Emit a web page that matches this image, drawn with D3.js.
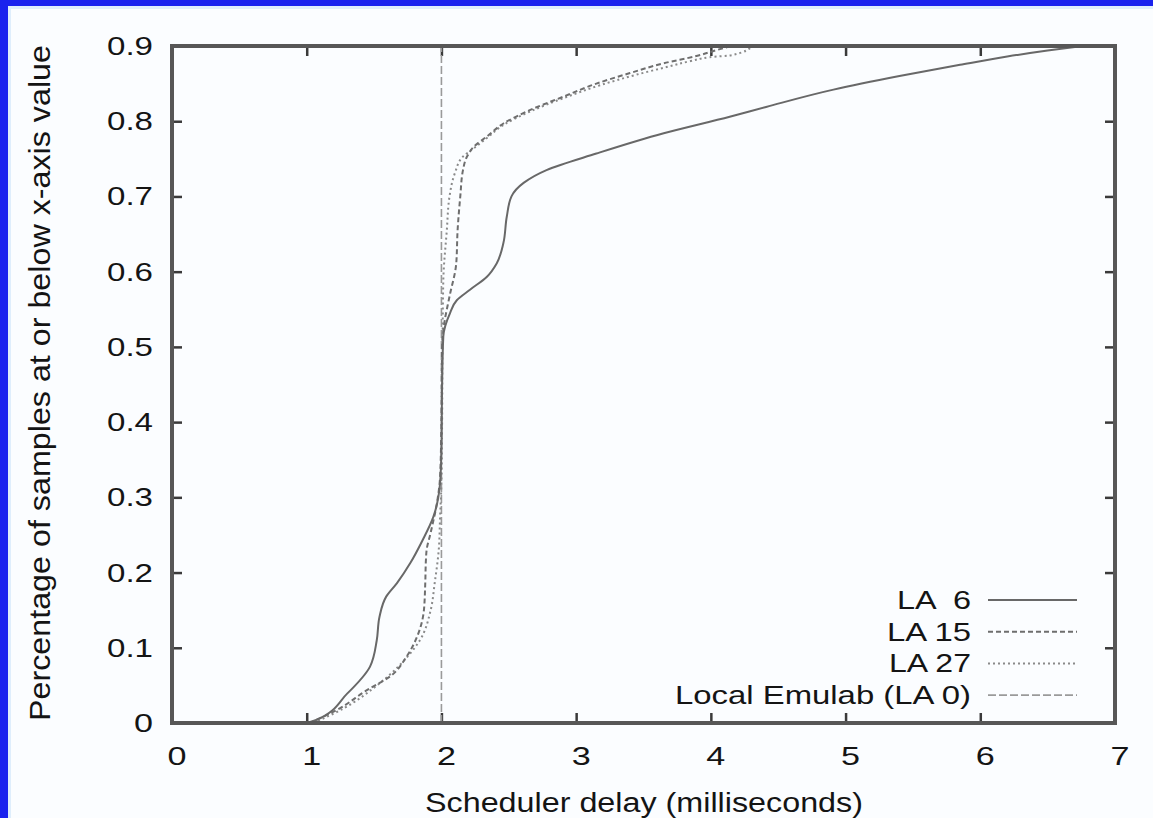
<!DOCTYPE html>
<html>
<head>
<meta charset="utf-8">
<script src="https://cdn.jsdelivr.net/npm/d3@7"></script>
<style>
  body { margin: 0; background: #fff; }
  svg text { font-family: "Liberation Sans", Arial, sans-serif; fill: #141414; }
</style>
</head>
<body>
<svg id="chart" width="1153" height="818"></svg>
<script>
// delay (ms) / fraction of samples
const la6Delay = [1.0, 1.07, 1.30, 1.47, 1.52, 1.54, 1.59, 1.67, 1.77, 1.86, 1.94, 1.99, 2.0, 2.005, 2.014, 2.064, 2.114, 2.212, 2.336, 2.41, 2.46, 2.485, 2.52, 2.61, 2.78, 3.15, 3.65, 4.14, 4.41, 4.91, 5.40, 5.85, 6.2, 6.5, 6.76];
const la6Frac  = [0.0, 0.004, 0.039, 0.075, 0.11, 0.141, 0.168, 0.186, 0.213, 0.243, 0.274, 0.319, 0.363, 0.45, 0.514, 0.545, 0.562, 0.576, 0.593, 0.611, 0.638, 0.673, 0.70, 0.718, 0.735, 0.757, 0.784, 0.806, 0.819, 0.842, 0.860, 0.875, 0.886, 0.894, 0.9];

const la15Delay = [1.02, 1.22, 1.45, 1.62, 1.74, 1.82, 1.87, 1.88, 1.885, 1.89, 1.92, 1.97, 1.99, 2.0, 2.005, 2.02, 2.06, 2.11, 2.12, 2.14, 2.16, 2.19, 2.24, 2.34, 2.46, 2.66, 2.91, 3.15, 3.40, 3.65, 3.90, 4.05, 4.15];
const la15Frac  = [0.0, 0.017, 0.044, 0.062, 0.088, 0.115, 0.15, 0.186, 0.217, 0.23, 0.253, 0.296, 0.327, 0.40, 0.50, 0.53, 0.567, 0.611, 0.655, 0.70, 0.735, 0.753, 0.766, 0.78, 0.797, 0.815, 0.833, 0.85, 0.864, 0.877, 0.887, 0.895, 0.9];

const la27Delay = [1.05, 1.28, 1.50, 1.68, 1.78, 1.84, 1.92, 1.95, 1.98, 1.99, 2.0, 2.005, 2.008, 2.014, 2.04, 2.06, 2.10, 2.16, 2.24, 2.34, 2.46, 2.66, 2.91, 3.18, 3.45, 3.67, 3.85, 3.99, 4.16, 4.31];
const la27Frac  = [0.0, 0.02, 0.047, 0.075, 0.095, 0.11, 0.15, 0.186, 0.23, 0.274, 0.319, 0.40, 0.50, 0.589, 0.655, 0.70, 0.731, 0.753, 0.764, 0.778, 0.795, 0.813, 0.831, 0.848, 0.862, 0.872, 0.88, 0.885, 0.888, 0.9];

const localDelay = [2.0, 2.0];
const localFrac  = [0.0, 0.9];

const seriesNames = ["LA  6", "LA 15", "LA 27", "Local Emulab (LA 0)"];
const xTicks = [0, 1, 2, 3, 4, 5, 6, 7];
const yTicks = [0, 0.1, 0.2, 0.3, 0.4, 0.5, 0.6, 0.7, 0.8, 0.9];

const xTitle = "Scheduler delay (milliseconds)";
const yTitle = "Percentage of samples at or below x-axis value";

const svg = d3.select("#chart");

// blue frame of the slide (left and top only)
svg.append("rect").attr("x", 0).attr("y", 0).attr("width", 1153).attr("height", 818).attr("fill", "#fbfdff");
svg.append("rect").attr("x", 0).attr("y", 0).attr("width", 8).attr("height", 818).attr("fill", "#1a22ee");
svg.append("rect").attr("x", 0).attr("y", 0).attr("width", 1153).attr("height", 6).attr("fill", "#1a22ee");
svg.append("rect").attr("x", 8).attr("y", 6).attr("width", 3).attr("height", 812).attr("fill", "#dfeefc");
svg.append("rect").attr("x", 8).attr("y", 6).attr("width", 1145).attr("height", 3).attr("fill", "#dfeefc");

const pLeft = 172, pRight = 1115, pTop = 46, pBottom = 723;

const x = d3.scaleLinear().domain([0, 7]).range([pLeft, pRight]);
const y = d3.scaleLinear().domain([0, 0.9]).range([pBottom, pTop]);

// ticks, gnuplot style: inward and mirrored
const tickLen = 10;
const axisStyle = sel => {
  sel.select(".domain").remove();
  sel.selectAll(".tick line").attr("stroke", "#3a3a3a").attr("stroke-width", 2.5);
  sel.selectAll(".tick text").remove();
};

svg.append("g").attr("transform", `translate(0,${pBottom})`)
  .call(d3.axisBottom(x).tickValues(xTicks).tickSizeInner(-tickLen).tickSizeOuter(0))
  .call(axisStyle);
svg.append("g").attr("transform", `translate(0,${pTop})`)
  .call(d3.axisTop(x).tickValues(xTicks).tickSizeInner(-tickLen).tickSizeOuter(0))
  .call(axisStyle);
svg.append("g").attr("transform", `translate(${pLeft},0)`)
  .call(d3.axisLeft(y).tickValues(yTicks).tickSizeInner(-tickLen).tickSizeOuter(0))
  .call(axisStyle);
svg.append("g").attr("transform", `translate(${pRight},0)`)
  .call(d3.axisRight(y).tickValues(yTicks).tickSizeInner(-tickLen).tickSizeOuter(0))
  .call(axisStyle);

// tick labels (the source picture is stretched sideways, so force widths)
svg.append("g").selectAll("text").data(xTicks).join("text")
  .attr("x", d => x(d) + 5)
  .attr("y", pBottom + 42)
  .attr("text-anchor", "middle")
  .attr("font-size", 25)
  .attr("textLength", 19)
  .attr("lengthAdjust", "spacingAndGlyphs")
  .text(d => d);

svg.append("g").selectAll("text").data(yTicks).join("text")
  .attr("x", 153)
  .attr("y", d => y(d) + 9)
  .attr("text-anchor", "end")
  .attr("font-size", 25)
  .attr("textLength", d => d === 0 ? 19 : 46)
  .attr("lengthAdjust", "spacingAndGlyphs")
  .text(d => d === 0 ? "0" : d3.format(".1f")(d));

// axis titles
svg.append("text")
  .attr("x", 644).attr("y", 812)
  .attr("text-anchor", "middle")
  .attr("font-size", 27)
  .attr("textLength", 438)
  .attr("lengthAdjust", "spacingAndGlyphs")
  .text(xTitle);

svg.append("text")
  .attr("transform", "translate(50,383) rotate(-90)")
  .attr("text-anchor", "middle")
  .attr("font-size", 29)
  .attr("textLength", 676)
  .attr("lengthAdjust", "spacingAndGlyphs")
  .text(yTitle);

// curves
svg.append("clipPath").attr("id", "plotclip")
  .append("rect").attr("x", pLeft).attr("y", pTop - 1).attr("width", pRight - pLeft).attr("height", pBottom - pTop + 1);

const series = [
  { name: seriesNames[0], xs: la6Delay,   ys: la6Frac,   color: "#686868", dash: null,  w: 2 },
  { name: seriesNames[1], xs: la15Delay,  ys: la15Frac,  color: "#6e6e6e", dash: "5,3", w: 2 },
  { name: seriesNames[2], xs: la27Delay,  ys: la27Frac,  color: "#8a8a8a", dash: "2,3", w: 2 },
  { name: seriesNames[3], xs: localDelay, ys: localFrac, color: "#9a9a9a", dash: "8,3", w: 1.6 }
];

const line = d3.line()
  .x(d => x(d[0]))
  .y(d => y(d[1]))
  .curve(d3.curveMonotoneY);

const plot = svg.append("g").attr("clip-path", "url(#plotclip)");
series.slice().reverse().forEach(s => {
  plot.append("path")
    .datum(d3.zip(s.xs, s.ys))
    .attr("fill", "none")
    .attr("stroke", s.color)
    .attr("stroke-width", s.w)
    .attr("stroke-dasharray", s.dash)
    .attr("d", line);
});

// frame
svg.append("rect")
  .attr("x", pLeft).attr("y", pTop)
  .attr("width", pRight - pLeft).attr("height", pBottom - pTop)
  .attr("fill", "none")
  .attr("stroke", "#575757")
  .attr("stroke-width", 4);

// legend
const legendLabelW = [74, 84, 82, 296];
const legend = svg.append("g");
series.forEach((s, i) => {
  const ly = 600 + i * 31.7;
  legend.append("text")
    .attr("x", 971).attr("y", ly + 9)
    .attr("text-anchor", "end")
    .attr("font-size", 25)
    .attr("textLength", legendLabelW[i])
    .attr("lengthAdjust", "spacingAndGlyphs")
    .style("white-space", "pre")
    .text(s.name);
  legend.append("line")
    .attr("x1", 988).attr("x2", 1077)
    .attr("y1", ly).attr("y2", ly)
    .attr("stroke", s.color)
    .attr("stroke-width", s.w)
    .attr("stroke-dasharray", s.dash);
});
</script>
</body>
</html>
